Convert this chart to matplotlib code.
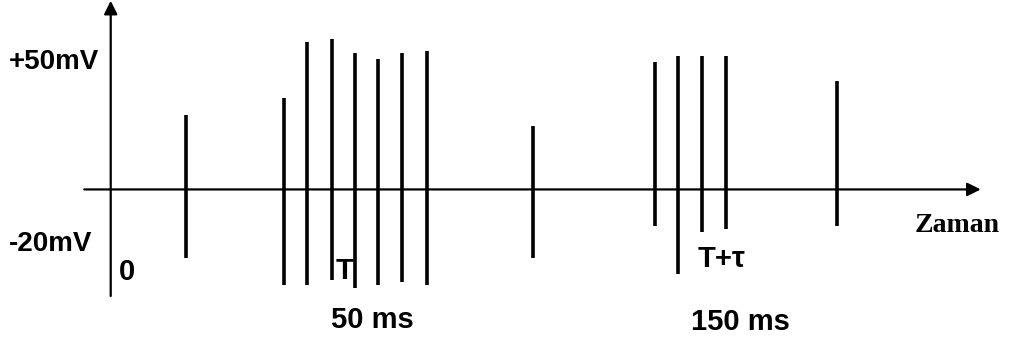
import numpy as np
import matplotlib.pyplot as plt

# spike train data (time in ms, voltage in mV)
spike_times = [16.2, 37.3, 42.4, 47.6, 52.7, 57.7, 62.8, 68.1,
               91.1, 117.2, 122.3, 127.4, 132.5, 156.6]
spike_peaks = [29.2, 35.8, 58.0, 58.9, 53.6, 51.1, 53.6, 54.3,
               24.9, 50.1, 52.4, 52.4, 52.4, 42.5]
spike_troughs = [-26.7, -37.5, -37.5, -35.5, -38.7, -37.5, -36.5, -37.5,
                 -26.7, -14.3, -33.1, -16.5, -15.6, -14.3]

y_labels = ["+50mV", "-20mV"]
time_labels = ["0", "T", "50 ms", "T+τ", "150 ms"]
axis_label = "Zaman"

fig = plt.figure(figsize=(10.09, 3.47), dpi=100)
ax = fig.add_axes([0, 0, 1, 1])
ax.set_xlim(-23.86, 193.6)
ax.set_ylim(-61.8, 74.3)
ax.axis("off")

# axes with arrows
arrow = dict(arrowstyle="-|>,head_length=0.8,head_width=0.4",
             lw=1.6, color="black", shrinkA=0, shrinkB=0)
ax.annotate("", xy=(187.5, 0), xytext=(-5.7, 0), arrowprops=arrow)
ax.annotate("", xy=(0, 74.0), xytext=(0, -41.8), arrowprops=arrow)

# spikes
ax.vlines(spike_times, spike_troughs, spike_peaks, colors="black", lw=2.6)

txt = dict(family=["Liberation Sans", "DejaVu Sans"], weight="bold",
           color="black", va="center")
fig.text(9 / 1009, 1 - 62 / 347, y_labels[0], fontsize=20, ha="left", **txt)
fig.text(9 / 1009, 1 - 244 / 347, y_labels[1], fontsize=20, ha="left", **txt)
fig.text(127 / 1009, 1 - 272 / 347, time_labels[0], fontsize=21, ha="center", **txt)
fig.text(345 / 1009, 1 - 271 / 347, time_labels[1], fontsize=21, ha="center", **txt)
fig.text(372 / 1009, 1 - 320 / 347, time_labels[2], fontsize=21, ha="center", **txt)
fig.text(722 / 1009, 1 - 259 / 347, time_labels[3], fontsize=21, ha="center", **txt)
fig.text(740 / 1009, 1 - 322 / 347, time_labels[4], fontsize=21, ha="center", **txt)
fig.text(957 / 1009, 1 - 225 / 347, axis_label, fontsize=20, family="Liberation Serif",
         weight="bold", ha="center", va="center")

fig.savefig("out.png", dpi=100, facecolor="white")
